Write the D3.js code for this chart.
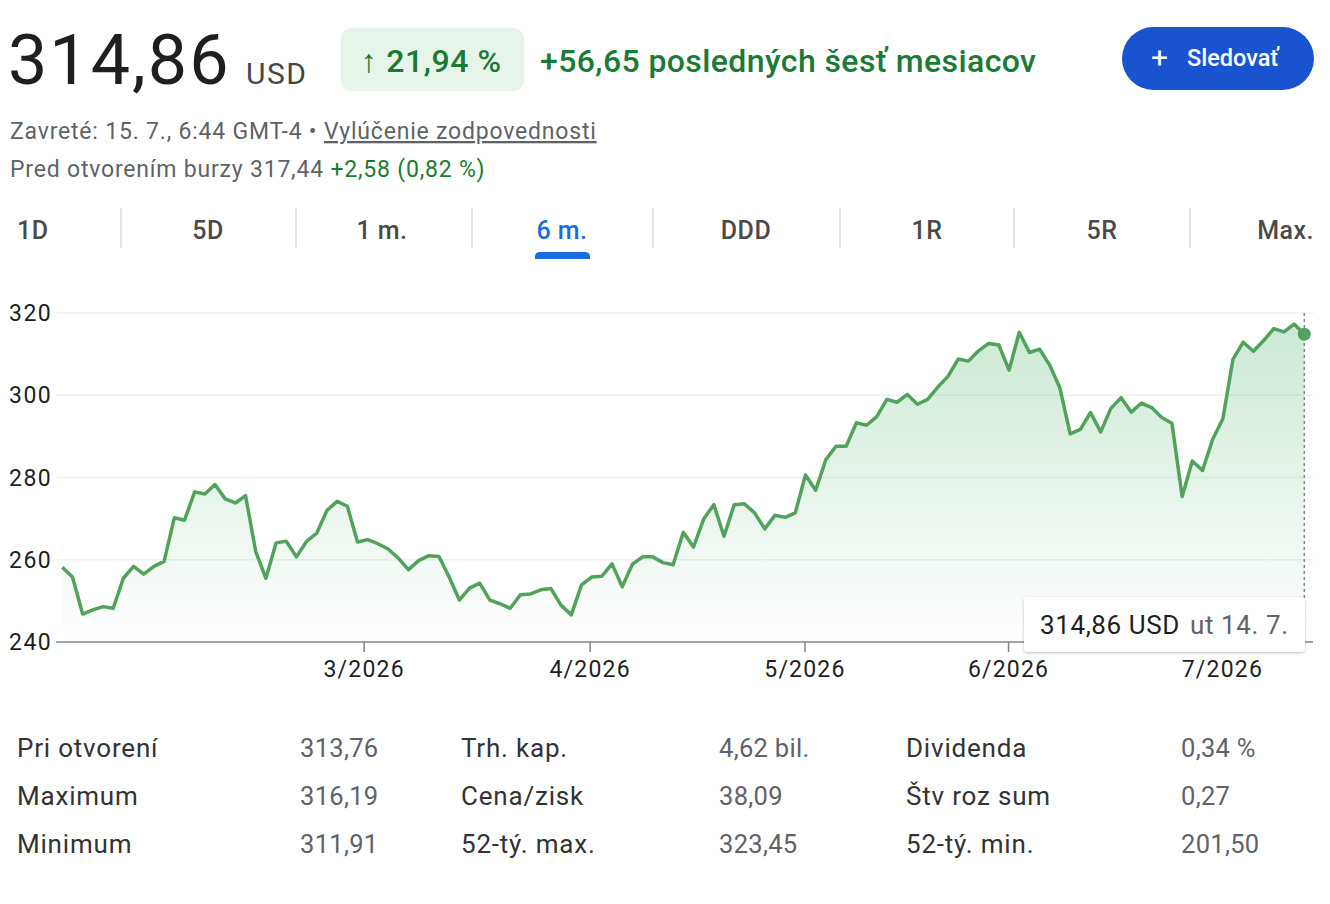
<!DOCTYPE html>
<html>
  <head>
    <meta charset="utf-8" />
    <title>6 m.</title>
    <script src="https://cdn.jsdelivr.net/npm/d3@7"></script>
    <style type="text/css">
      body { margin: 0; background: #fff; }
      svg { display: block; font-family: Roboto, "Noto Sans", sans-serif; }
    </style>
  </head>
  <body>
    <svg id="chart" width="1330" height="904"></svg>
    <script type="text/javascript">
      // ceny za poslednych 6 mesiacov (obchodne dni)
      var prices = [
        258.2, 255.8, 246.8, 247.8, 248.6, 248.2, 255.5, 258.4, 256.5, 258.4,
        259.6, 270.2, 269.6, 276.5, 276.0, 278.3, 274.8, 273.8, 275.6, 262.0,
        255.5, 264.1, 264.5, 260.7, 264.5, 266.5, 272.0, 274.2, 273.0, 264.3,
        264.9, 263.9, 262.6, 260.4, 257.6, 259.8, 261.0, 260.8, 255.8, 250.2,
        253.1, 254.3, 250.2, 249.3, 248.2, 251.5, 251.7, 252.7, 253.0, 248.9,
        246.6, 253.9, 255.8, 256.0, 259.0, 253.4, 258.9, 260.7, 260.7, 259.3,
        258.8, 266.7, 263.1, 269.9, 273.4, 265.7, 273.4, 273.6, 271.4, 267.5,
        270.8, 270.3, 271.4, 280.6, 276.9, 284.3, 287.6, 287.6, 293.3, 292.7,
        294.8, 299.0, 298.3, 300.2, 297.8, 299.0, 302.0, 304.6, 308.8, 308.3,
        310.8, 312.6, 312.2, 306.1, 315.3, 310.4, 311.2, 307.3, 301.7, 290.6,
        291.7, 295.8, 291.1, 296.8, 299.4, 295.9, 298.1, 297.0, 294.6, 293.2,
        275.4, 284.0, 281.7, 289.3, 294.3, 308.8, 312.9, 310.7, 313.3, 316.2,
        315.4, 317.3, 314.86
      ];
      var monthLabels = ['3/2026', '4/2026', '5/2026', '6/2026', '7/2026'];
      var monthAt = [29.6, 51.8, 72.9, 92.9, 113.9]; // index v rade obchodnych dni
      var yTicks = [240, 260, 280, 300, 320];
      var tabs = ['1D', '5D', '1 m.', '6 m.', 'DDD', '1R', '5R', 'Max.'];
      var statLabels = [
        ['Pri otvorení', 'Maximum', 'Minimum'],
        ['Trh. kap.', 'Cena/zisk', '52-tý. max.'],
        ['Dividenda', 'Štv roz sum', '52-tý. min.']
      ];
      var statValues = [
        ['313,76', '316,19', '311,91'],
        ['4,62 bil.', '38,09', '323,45'],
        ['0,34 %', '0,27', '201,50']
      ];

      var green = '#1b7a35';
      var lineGreen = '#51a35b';
      var gray = '#5f6368';
      var ink = '#1f1f1f';

      var svg = d3.select('#chart');

      // ---- hlavicka
      var head = svg.append('g');
      head.append('text').attr('x', 8).attr('y', 84)
        .attr('font-size', 70).attr('letter-spacing', 2).attr('fill', ink).text('314,86');
      head.append('text').attr('x', 246).attr('y', 84)
        .attr('font-size', 30).attr('letter-spacing', 1.5).attr('fill', '#444746').text('USD');

      head.append('rect').attr('x', 341).attr('y', 28).attr('width', 183).attr('height', 63)
        .attr('rx', 11).attr('fill', '#e6f4ea');
      head.append('text').attr('x', 361).attr('y', 72)
        .attr('font-size', 32).attr('font-weight', 500).attr('letter-spacing', 0.6)
        .attr('fill', green).text('↑ 21,94 %');
      head.append('text').attr('x', 540).attr('y', 72)
        .attr('font-size', 32).attr('font-weight', 500).attr('letter-spacing', 0.4).attr('fill', green)
        .text('+56,65 posledných šesť mesiacov');

      head.append('rect').attr('x', 1122).attr('y', 27).attr('width', 192).attr('height', 63)
        .attr('rx', 31.5).attr('fill', '#1a53d0');
      head.append('text').attr('x', 1151).attr('y', 68)
        .attr('font-size', 30).attr('fill', '#fff').text('+');
      head.append('text').attr('x', 1187).attr('y', 66)
        .attr('font-size', 23.5).attr('font-weight', 500).attr('fill', '#fff').text('Sledovať');

      var l1 = head.append('text').attr('x', 10).attr('y', 139)
        .attr('font-size', 23).attr('letter-spacing', 0.8).attr('fill', gray);
      l1.append('tspan').text('Zavreté: 15. 7., 6:44 GMT-4 • ');
      l1.append('tspan').attr('text-decoration', 'underline').text('Vylúčenie zodpovednosti');

      var l2 = head.append('text').attr('x', 10).attr('y', 177)
        .attr('font-size', 23).attr('letter-spacing', 0.8).attr('fill', gray);
      l2.append('tspan').text('Pred otvorením burzy 317,44 ');
      l2.append('tspan').attr('fill', green).text('+2,58 (0,82 %)');

      // ---- zalozky rozsahu
      var tabPos = [17, 208, 382, 562, 746, 927, 1102, 1314];
      var tabG = svg.append('g');
      tabG.selectAll('text').data(tabs).enter().append('text')
        .attr('x', function (d, i) { return tabPos[i]; })
        .attr('y', 239)
        .attr('text-anchor', function (d, i) { return i === 0 ? 'start' : (i === tabs.length - 1 ? 'end' : 'middle'); })
        .attr('font-size', 25).attr('font-weight', 500).attr('letter-spacing', 0.5)
        .attr('fill', function (d) { return d === '6 m.' ? '#1a6ce0' : '#4a4a4a'; })
        .text(function (d) { return d; });
      var seps = [121, 296, 472, 653, 840, 1014, 1190];
      tabG.selectAll('line').data(seps).enter().append('line')
        .attr('x1', function (d) { return d; }).attr('x2', function (d) { return d; })
        .attr('y1', 208).attr('y2', 248).attr('stroke', '#dadce0').attr('stroke-width', 1.5);
      tabG.append('path').attr('d', 'M535,259 L535,257 Q535,252 540,252 L585,252 Q590,252 590,257 L590,259 Z')
        .attr('fill', '#1a6ce0');

      // ---- graf
      var x = d3.scaleLinear().domain([0, prices.length - 1]).range([62.3, 1304.3]);
      var y = d3.scaleLinear().domain([240, 320]).range([642, 313]);
      var plotL = 56, plotR = 1313;

      var defs = svg.append('defs');
      var grad = defs.append('linearGradient').attr('id', 'fillGrad')
        .attr('gradientUnits', 'userSpaceOnUse')
        .attr('x1', 0).attr('x2', 0).attr('y1', y(320)).attr('y2', y(240));
      grad.append('stop').attr('offset', 0).attr('stop-color', '#34a853').attr('stop-opacity', 0.26);
      grad.append('stop').attr('offset', 1).attr('stop-color', '#34a853').attr('stop-opacity', 0);

      var grid = svg.append('g');
      grid.selectAll('line').data(yTicks.slice(1)).enter().append('line')
        .attr('x1', plotL).attr('x2', plotR)
        .attr('y1', function (d) { return y(d); }).attr('y2', function (d) { return y(d); })
        .attr('stroke', '#eef0f1').attr('stroke-width', 1.5);

      svg.append('g').selectAll('text').data(yTicks).enter().append('text')
        .attr('x', 9).attr('y', function (d) { return y(d); })
        .attr('dy', '0.35em').attr('font-size', 23).attr('letter-spacing', 1.5).attr('fill', ink)
        .text(function (d) { return d; });

      var area = d3.area()
        .x(function (d, i) { return x(i); })
        .y0(y(240))
        .y1(function (d) { return y(d); });
      svg.append('path').attr('d', area(prices)).attr('fill', 'url(#fillGrad)');

      // os x
      var xAxis = d3.axisBottom(x)
        .tickValues(monthAt)
        .tickSize(10)
        .tickFormat(function (d, i) { return monthLabels[i]; });
      var axG = svg.append('g').attr('transform', 'translate(0,' + y(240) + ')').call(xAxis);
      axG.select('.domain').remove();
      axG.selectAll('line').attr('stroke', '#80868b').attr('stroke-width', 1.5);
      axG.selectAll('text').attr('font-size', 23).attr('letter-spacing', 1.2).attr('fill', ink)
        .attr('font-family', 'Roboto, sans-serif').attr('dy', '0.95em').attr('y', 13);
      svg.append('line').attr('x1', plotL).attr('x2', plotR)
        .attr('y1', y(240)).attr('y2', y(240)).attr('stroke', '#80868b').attr('stroke-width', 1.5);

      var line = d3.line()
        .x(function (d, i) { return x(i); })
        .y(function (d) { return y(d); });
      svg.append('path').attr('d', line(prices)).attr('fill', 'none')
        .attr('stroke', lineGreen).attr('stroke-width', 3.5).attr('stroke-linejoin', 'round');

      var last = prices.length - 1;
      svg.append('line').attr('x1', x(last)).attr('x2', x(last))
        .attr('y1', y(320)).attr('y2', y(240))
        .attr('stroke', '#80868b').attr('stroke-width', 1.5).attr('stroke-dasharray', '3,3');
      svg.append('circle').attr('cx', x(last)).attr('cy', y(prices[last])).attr('r', 6.5)
        .attr('fill', lineGreen);

      // tooltip
      var tipF = defs.append('filter').attr('id', 'sh').attr('x', -0.1).attr('y', -0.3)
        .attr('width', 1.2).attr('height', 1.6);
      tipF.append('feDropShadow').attr('dx', 0).attr('dy', 1).attr('stdDeviation', 1.5)
        .attr('flood-color', '#000').attr('flood-opacity', 0.25);
      var tip = svg.append('g');
      tip.append('rect').attr('x', 1024).attr('y', 597).attr('width', 281).attr('height', 55)
        .attr('rx', 4).attr('fill', '#fff').attr('filter', 'url(#sh)');
      var tt = tip.append('text').attr('x', 1040).attr('y', 634).attr('font-size', 26)
        .attr('letter-spacing', 0.6);
      tt.append('tspan').attr('fill', ink).text('314,86 USD');
      tt.append('tspan').attr('fill', gray).attr('dx', 10).text('ut 14. 7.');

      // ---- tabulka udajov
      var colLab = [17, 461, 906], colVal = [300, 719, 1181], rowY = [757, 805, 853];
      var st = svg.append('g');
      statLabels.forEach(function (col, c) {
        col.forEach(function (t, r) {
          st.append('text').attr('x', colLab[c]).attr('y', rowY[r])
            .attr('font-size', 26).attr('letter-spacing', 0.8).attr('fill', '#333').text(t);
          st.append('text').attr('x', colVal[c]).attr('y', rowY[r])
            .attr('font-size', 25.5).attr('letter-spacing', 0.3).attr('fill', '#5f6368')
            .text(statValues[c][r]);
        });
      });
    </script>
  </body>
</html>
